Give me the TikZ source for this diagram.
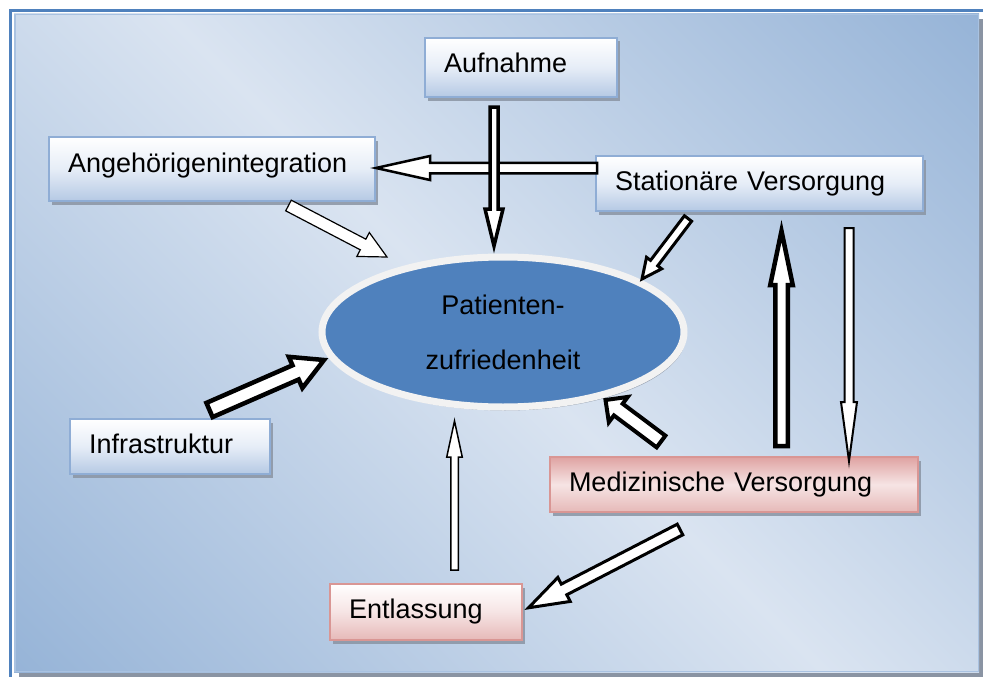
\documentclass[tikz,border=0pt]{standalone}
\usepackage{fontspec}
\setmainfont{Liberation Sans}
\usetikzlibrary{calc,shapes.geometric,shadows}
\definecolor{panelDark}{HTML}{95B3D7}
\definecolor{panelLight}{HTML}{DAE4F1}
\definecolor{panelEdge}{HTML}{A9C2E1}
\definecolor{frameBlue}{HTML}{4F81BD}
\definecolor{shadowGray}{HTML}{8A94A3}
\definecolor{boxBorder}{HTML}{8FADD5}
\definecolor{boxBlue}{HTML}{B5C9E4}
\definecolor{boxMid}{HTML}{E6EDF7}
\definecolor{pinkBorder}{HTML}{D99694}
\definecolor{pinkBottom}{HTML}{E6B9B8}
\definecolor{pinkMid}{HTML}{F6E4E4}
\definecolor{pinkTop}{HTML}{DFA3A2}
\definecolor{ellBlue}{HTML}{4F81BD}
\definecolor{ellRing}{HTML}{F2F2F2}
\pgfdeclareverticalshading{panelshade}{100bp}{color(0bp)=(panelDark); color(14bp)=(panelDark); color(50bp)=(panelLight); color(86bp)=(panelDark); color(100bp)=(panelDark)}
\newcommand\blockarrow[6]{%
  \coordinate (bac) at ($(#3)!#6!(#2)$);
  \draw[arrowbody,#1] ($(#2)!#4!90:(#3)$) -- ($(bac)!#4!90:(#3)$) -- ($(bac)!#5!90:(#3)$) -- (#3) -- ($(bac)!#5!-90:(#3)$) -- ($(bac)!#4!-90:(#3)$) -- ($(#2)!#4!-90:(#3)$) -- cycle;
}
\begin{document}
\begin{tikzpicture}[x=1pt,y=-1pt,
  boxtext/.style={font=\fontsize{27}{32}\selectfont, align=left, inner xsep=19pt, inner ysep=0pt, outer sep=0pt, line width=1.8pt, text depth=5.7pt},
  boxshadow/.style={drop shadow={shadow xshift=3pt,shadow yshift=-3.5pt,fill=shadowGray,opacity=0.85}},
  bluebox/.style={boxtext, boxshadow, draw=boxBorder, top color=white, bottom color=boxBlue, middle color=boxMid},
  pinkbox/.style={boxtext, boxshadow, draw=pinkBorder, top color=white, bottom color=pinkBottom, middle color=pinkMid},
  pinkboxb/.style={boxtext, boxshadow, draw=pinkBorder, top color=pinkTop, bottom color=pinkBottom, middle color=pinkMid},
  arrowbody/.style={draw=black, fill=white, line join=miter}
]
\useasboundingbox (0,0) rectangle (983,677);
% frame and panel
\fill[shadowGray] (19,19) rectangle (984,678);
\shade[shading=panelshade, shading angle=-45] (14,14) rectangle (979,672);
\draw[panelEdge, line width=1.5pt] (14.75,14.75) rectangle (978.25,671.25);
\draw[frameBlue, line width=2.2pt] (10.5,678) -- (10.5,10.5) -- (984,10.5);

% nodes
\node[bluebox, minimum width=192pt, minimum height=59pt, text width=154pt, text depth=10pt] (aufn) at (521,67.5) {Aufnahme};
\node[bluebox, minimum width=326pt, minimum height=64pt, text width=288pt, text depth=13.5pt] (ang) at (212,169) {Angehörigenintegration};
\node[bluebox, minimum width=327pt, minimum height=55pt, text width=289pt] (stat) at (759.5,183.5) {Stationäre Versorgung};
\node[bluebox, minimum width=200pt, minimum height=55pt, text width=162pt] (infra) at (170,446.5) {Infrastruktur};
\node[pinkboxb, minimum width=368pt, minimum height=55pt, text width=330pt] (med) at (734,484.5) {Medizinische Versorgung};
\node[pinkbox, minimum width=192pt, minimum height=56pt, text width=154pt] (entl) at (426,612) {Entlassung};
\node[ellipse, minimum width=362pt, minimum height=150pt, inner sep=0pt, outer sep=0pt, fill=ellBlue, draw=ellRing, line width=7pt, drop shadow={shadow xshift=2pt,shadow yshift=-3.5pt,fill=shadowGray,opacity=0.85}, align=center, font=\fontsize{27}{55}\selectfont] (pz) at (503,332) {Patienten-\\zufriedenheit};

% connector end points
\coordinate (t1) at ($(aufn.south)+(-27,10)$);
\coordinate (h1) at ($(pz.north)+(-9,-11)$);
\coordinate (t2) at ($(stat.west)+(1,-15.5)$);
\coordinate (h2) at ($(ang.east)+(1,-1)$);
\coordinate (t3) at ($(ang.south)+(76.5,4.5)$);
\coordinate (h3) at ($(pz.center)+(-116,-75)$);
\coordinate (t4) at ($(stat.south west)+(92,7.5)$);
\coordinate (h4) at ($(pz.center)+(139,-53)$);
\coordinate (t5) at ($(infra.north)+(39.5,-9)$);
\coordinate (h5) at ($(pz.center)+(-179,28)$);
\coordinate (t6) at ($(med.north west)+(111,-15.5)$);
\coordinate (h6) at ($(pz.center)+(102.5,68)$);
\coordinate (t7) at ($(med.north west)+(231.5,-11)$);
\coordinate (h7) at ($(stat.south west)+(185.5,20)$);
\coordinate (t8) at ($(stat.south west)+(253,17)$);
\coordinate (h8) at ($(med.north west)+(299,4)$);
\coordinate (t9) at ($(entl.north)+(28.5,-14)$);
\coordinate (h9) at ($(pz.center)+(-48.5,89)$);
\coordinate (t10) at ($(med.south west)+(130,17.5)$);
\coordinate (h10) at ($(entl.east)+(6.5,-4.2)$);

% block arrows
\blockarrow{line width=2.5pt}{t2}{h2}{5.25pt}{12pt}{54pt}
\blockarrow{line width=3.5pt}{t1}{h1}{4pt}{9pt}{37pt}
\blockarrow{line width=1.2pt}{t3}{h3}{6pt}{13.5pt}{27pt}
\blockarrow{line width=3pt}{t4}{h4}{4.5pt}{9.5pt}{20pt}
\blockarrow{line width=4.5pt}{t5}{h5}{7.75pt}{17pt}{31pt}
\blockarrow{line width=4pt}{t6}{h6}{7.3pt}{15.8pt}{16pt}
\blockarrow{line width=4.5pt}{t7}{h7}{6.25pt}{11.25pt}{54pt}
\blockarrow{line width=2pt}{t8}{h8}{4.5pt}{8pt}{59pt}
\blockarrow{line width=1.5pt}{t9}{h9}{3.75pt}{7.75pt}{36pt}
\blockarrow{line width=3pt}{t10}{h10}{6pt}{13.5pt}{40pt}
\end{tikzpicture}
\end{document}
